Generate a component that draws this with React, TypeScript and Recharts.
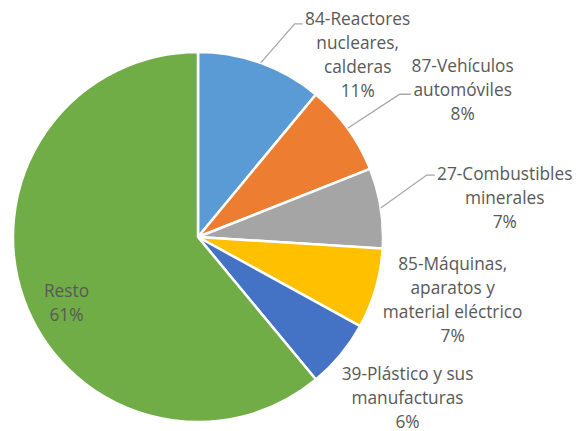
import React from 'react';
import { PieChart, Pie, Cell } from 'recharts';

const categories = [
  '84-Reactores\nnucleares,\ncalderas',
  '87-Vehículos\nautomóviles',
  '27-Combustibles\nminerales',
  '85-Máquinas,\naparatos y\nmaterial eléctrico',
  '39-Plástico y sus\nmanufacturas',
  'Resto',
];
const shares = [11, 8, 7, 7, 6, 61];

const COLORS = ['#5B9BD5', '#ED7D31', '#A5A5A5', '#FFC000', '#4472C4', '#70AD47'];

// label placement relative to the slice's outer edge point (text centre offset)
const LABEL_OFFSET = [
  [97, -9],
  [115, -39],
  [124, -11],
  [77, 10],
  [67, 42],
  [6, 15],
];
// leader lines: elbow dx, elbow dy, end dx (relative to edge point), null = none
const LEADERS: (number[] | null)[] = [
  [34, -39, 42],
  [52, -34, 63],
  [46, -33, 54],
  null,
  null,
  null,
];

const data = categories.map((name, i) => ({ name, value: shares[i] }));

const RADIAN = Math.PI / 180;
const LINE_H = 24;

const renderLabel = (props: any) => {
  const { cx, cy, midAngle, outerRadius, index, value } = props;
  const isInside = index === 5;
  const r = isInside ? outerRadius * 0.79 : outerRadius;
  const ex = cx + r * Math.cos(-midAngle * RADIAN);
  const ey = cy + r * Math.sin(-midAngle * RADIAN);
  const [dx, dy] = LABEL_OFFSET[index];
  const lines = [...categories[index].split('\n'), `${value}%`];
  const tx = ex + dx;
  const ty = ey + dy - ((lines.length - 1) * LINE_H) / 2;
  const leader = LEADERS[index];
  return (
    <g key={`lbl-${index}`}>
      {leader && (
        <polyline
          points={`${ex},${ey} ${ex + leader[0]},${ey + leader[1]} ${ex + leader[2]},${ey + leader[1]}`}
          fill="none"
          stroke="#A6A6A6"
          strokeWidth={1.3}
        />
      )}
      <text
        x={tx}
        y={ty}
        textAnchor="middle"
        dominantBaseline="central"
        fill="#595959"
        fontSize={17.3}
        fontFamily="'Open Sans', sans-serif"
      >
        {lines.map((ln, i) => (
          <tspan key={i} x={tx} dy={i === 0 ? 0 : LINE_H}>
            {ln}
          </tspan>
        ))}
      </text>
    </g>
  );
};

export default function App() {
  return (
    <div style={{ width: 580, height: 431, background: '#fff' }}>
      <style>{'body{margin:0}'}</style>
      <PieChart width={580} height={431} margin={{ top: 0, right: 0, bottom: 0, left: 0 }}>
        <Pie
          data={data}
          dataKey="value"
          cx={198}
          cy={237}
          outerRadius={185}
          startAngle={90}
          endAngle={-270}
          stroke="#fff"
          strokeWidth={2.5}
          label={renderLabel}
          labelLine={false}
          isAnimationActive={false}
        >
          {data.map((e, i) => (
            <Cell key={`c-${i}`} fill={COLORS[i]} />
          ))}
        </Pie>
      </PieChart>
    </div>
  );
}
